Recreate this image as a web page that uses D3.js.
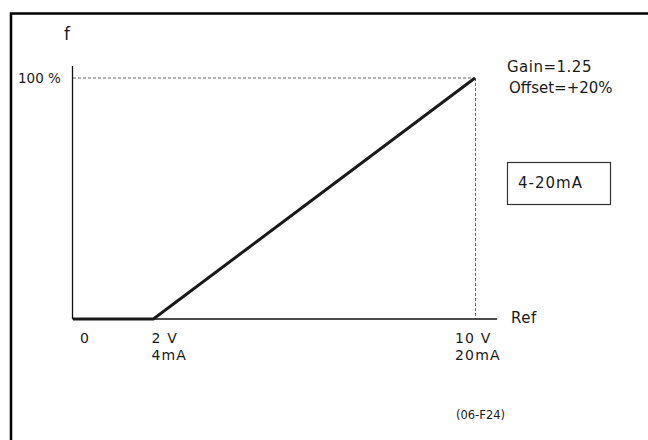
<!DOCTYPE html>
<html>
<head>
<meta charset="utf-8">
<script src="https://cdn.jsdelivr.net/npm/d3@7"></script>
<style>
  html, body { margin: 0; padding: 0; background: #fff; }
  svg { display: block; }
  text { font-family: "DejaVu Sans", Verdana, sans-serif; fill: #1a1a1a; }
</style>
</head>
<body>
<div id="chart"></div>
<script>
// Data
const refValues = [0, 2, 10];          // reference input (V)
const freqValues = [0, 0, 100];        // output frequency (%)
const xTickValues = [0, 2, 10];
const xTickLine1 = ["0", "2 V", "10 V"];
const xTickLine2 = ["", "4mA", "20mA"];
const yTickValues = [100];
const yTickLabels = ["100 %"];
const annotations = ["Gain=1.25", "Offset=+20%"];
const modeLabel = "4-20mA";
const figureId = "(06-F24)";

const W = 648, H = 440;
const svg = d3.select("#chart").append("svg").attr("width", W).attr("height", H);

// Frame
svg.append("rect")
  .attr("x", 11).attr("y", 13.5).attr("width", 800).attr("height", 600)
  .attr("fill", "none").attr("stroke", "#000").attr("stroke-width", 2.5);

const x = d3.scaleLinear().domain([0, 10]).range([73, 475]);
const y = d3.scaleLinear().domain([0, 100]).range([319, 78]);

// Dashed guides
svg.append("line")
  .attr("x1", x(0)).attr("x2", x(10)).attr("y1", y(100)).attr("y2", y(100))
  .attr("stroke", "#666").attr("stroke-width", 1).attr("stroke-dasharray", "3,2");
svg.append("line")
  .attr("x1", x(10) + 0.5).attr("x2", x(10) + 0.5).attr("y1", y(100)).attr("y2", y(0))
  .attr("stroke", "#666").attr("stroke-width", 1).attr("stroke-dasharray", "3,2");

// Axes
svg.append("line")
  .attr("x1", x(0) - 0.5).attr("x2", x(0) - 0.5).attr("y1", y(105)).attr("y2", y(0))
  .attr("stroke", "#111").attr("stroke-width", 1.3);
svg.append("line")
  .attr("x1", x(0) - 0.5).attr("x2", x(10.55)).attr("y1", y(0)).attr("y2", y(0))
  .attr("stroke", "#111").attr("stroke-width", 1.3);

// Curve
const pts = refValues.map((r, i) => [r, freqValues[i]]);
svg.append("path")
  .datum(pts)
  .attr("d", d3.line().x(d => x(d[0])).y(d => y(d[1])))
  .attr("fill", "none").attr("stroke", "#1a1a1a").attr("stroke-width", 3)
  .attr("stroke-linejoin", "miter");

// Axis titles
svg.append("text").attr("x", 64).attr("y", 40).attr("font-size", 17).text("f");
svg.append("text").attr("x", 511).attr("y", 323).attr("font-size", 15)
  .attr("letter-spacing", 0.5).text("Ref");

// Y tick labels
svg.selectAll(".ylab").data(yTickValues).enter().append("text")
  .attr("x", 18).attr("y", d => y(d) + 5).attr("font-size", 13.5)
  .text((d, i) => yTickLabels[i]);

// X tick labels
const dxOff = [7, -2, -20];
svg.selectAll(".xl1").data(xTickValues).enter().append("text")
  .attr("x", (d, i) => x(d) + dxOff[i]).attr("y", 343).attr("font-size", 14)
  .attr("letter-spacing", 1.2)
  .text((d, i) => xTickLine1[i]);
svg.selectAll(".xl2").data(xTickValues).enter().append("text")
  .attr("x", (d, i) => x(d) + dxOff[i]).attr("y", 360).attr("font-size", 14)
  .attr("letter-spacing", 1.2)
  .text((d, i) => xTickLine2[i]);

// Annotations
svg.append("text").attr("x", 507).attr("y", 72).attr("font-size", 15)
  .attr("letter-spacing", 0.5).text(annotations[0]);
svg.append("text").attr("x", 509).attr("y", 93).attr("font-size", 15)
  .text(annotations[1]);

// Mode box
svg.append("rect").attr("x", 507.5).attr("y", 162.5).attr("width", 103).attr("height", 42)
  .attr("fill", "none").attr("stroke", "#333").attr("stroke-width", 1.2);
svg.append("text").attr("x", 518).attr("y", 188).attr("font-size", 15)
  .attr("letter-spacing", 1).text(modeLabel);

// Figure id
svg.append("text").attr("x", 456).attr("y", 419).attr("font-size", 11.5)
  .text(figureId);
</script>
</body>
</html>
